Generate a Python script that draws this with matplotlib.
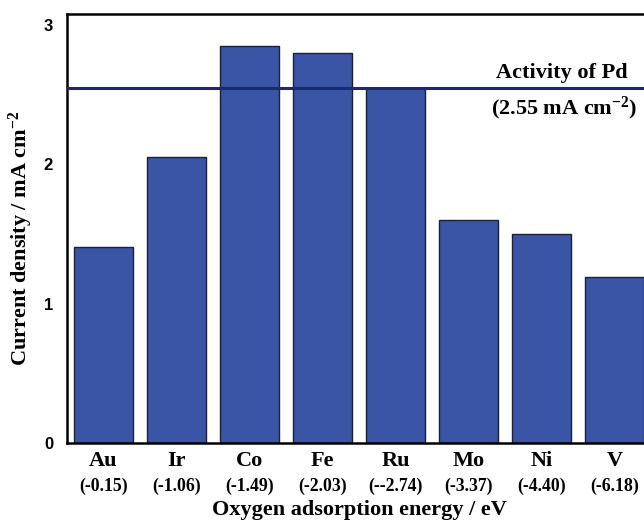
import matplotlib
matplotlib.use("Agg")
import matplotlib.pyplot as plt
import matplotlib.transforms as mtransforms

# Catalyst metals, their oxygen adsorption energies and measured current densities
metals = ["Au", "Ir", "Co", "Fe", "Ru", "Mo", "Ni", "V"]
energies = ["(-0.15)", "(-1.06)", "(-1.49)", "(-2.03)", "(--2.74)", "(-3.37)", "(-4.40)", "(-6.18)"]
current = [1.41, 2.05, 2.85, 2.80, 2.55, 1.60, 1.50, 1.19]
pd_activity = 2.55
yticks = [0, 1, 2, 3]

plt.rcParams["mathtext.fontset"] = "custom"
plt.rcParams["mathtext.rm"] = "Liberation Serif:bold"
plt.rcParams["mathtext.bf"] = "Liberation Serif:bold"
plt.rcParams["mathtext.default"] = "bf"

serif = ["Liberation Serif", "DejaVu Serif"]
sans = ["Liberation Sans", "DejaVu Sans"]

fig = plt.figure(figsize=(6.44, 5.21), dpi=100)
ax = fig.add_axes([0.104, 0.1497, 0.907, 0.8235])

x = list(range(len(metals)))
ax.bar(x, current, width=0.8, color="#3a54a6", edgecolor="#1a1f3a", linewidth=1.0, zorder=2)
ax.axhline(pd_activity, color="#1f2868", linewidth=2.2, zorder=3)

ax.set_xlim(-0.5, 7.5)
ax.set_ylim(0, 3.08)
ax.set_yticks(yticks)
ax.set_yticklabels([str(t) for t in yticks], fontfamily=sans, fontweight="bold", fontsize=12)
ax.set_xticks(x)
ax.set_xticklabels(metals, fontfamily=serif, fontweight="bold", fontsize=16)
ax.tick_params(axis="both", length=0)
ax.tick_params(axis="x", pad=6)
ax.tick_params(axis="y", pad=10)

for s in ax.spines.values():
    s.set_linewidth(1.8)
    s.set_color("black")

trans = mtransforms.blended_transform_factory(ax.transData, ax.transAxes)
for xi, e in zip(x, energies):
    ax.text(xi, -0.1, e, transform=trans, ha="center", va="center",
            fontfamily=serif, fontweight="bold", fontsize=12.8)

ax.set_xlabel("Oxygen adsorption energy / eV", fontfamily=serif, fontweight="bold",
              fontsize=16)
ax.xaxis.set_label_coords(0.5, -0.133)
ax.set_ylabel("Current density / mA cm$^{-2}$", fontfamily=serif, fontweight="bold",
              fontsize=16)
ax.yaxis.set_label_coords(-0.055, 0.478)

ax.text(7.18, pd_activity + 0.035, "Activity of Pd", ha="right", va="bottom",
        fontfamily=serif, fontweight="bold", fontsize=16, zorder=4)
ax.text(7.31, pd_activity - 0.05, "(2.55 mA cm$^{-2}$)", ha="right", va="top",
        fontfamily=serif, fontweight="bold", fontsize=16, zorder=4)

fig.savefig("out.png", dpi=100)
